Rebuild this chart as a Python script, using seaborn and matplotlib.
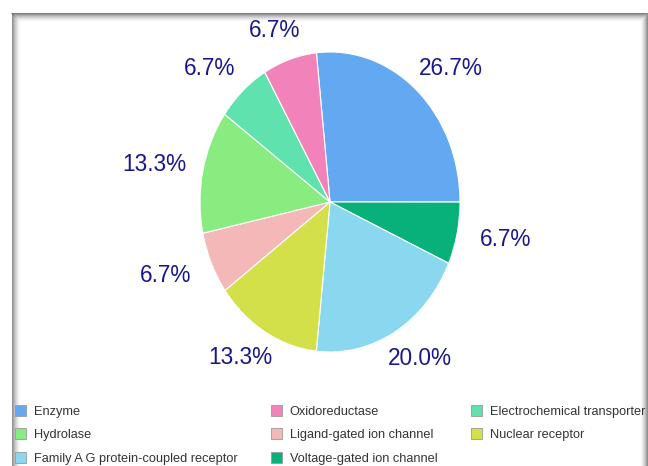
import matplotlib
matplotlib.use("Agg")
import matplotlib.pyplot as plt
from matplotlib.patches import Patch
import seaborn as sns

# ---- data ----
categories = ["Enzyme", "Voltage-gated ion channel",
              "Family A G protein-coupled receptor", "Nuclear receptor",
              "Ligand-gated ion channel", "Hydrolase",
              "Electrochemical transporter", "Oxidoreductase"]
percentages = [26.7, 6.7, 20.0, 13.3, 6.7, 13.3, 6.7, 6.7]
colors = ["#62A9F2", "#08B07A", "#8AD8F0", "#D3E04A",
          "#F5B8B8", "#88EC80", "#60E2AE", "#F282BA"]
legend_order = ["Enzyme", "Hydrolase", "Family A G protein-coupled receptor",
                "Oxidoreductase", "Ligand-gated ion channel",
                "Voltage-gated ion channel", "Electrochemical transporter",
                "Nuclear receptor"]

sns.set_theme(style="white")
plt.rcParams['font.family'] = ['Liberation Sans', 'DejaVu Sans']

W, H = 648, 466
fig = plt.figure(figsize=(W / 100, H / 100), dpi=100)
fig.patch.set_facecolor("white")

# background frame with soft shadow
bg = fig.add_axes([0, 0, 1, 1], zorder=0)
bg.set_xlim(0, W)
bg.set_ylim(H, 0)
bg.axis("off")
x0, y0 = 11, 12
for i in range(9):
    a = 0.5 * (1 - i / 9) ** 1.8
    bg.plot([x0 + i, W - i], [y0 + 0.5 + i] * 2, color="black", alpha=a, lw=0.72,
            solid_capstyle="butt")
    bg.plot([x0 + 0.5 + i] * 2, [y0 + i + 1, H], color="black", alpha=a * 0.85,
            lw=0.72, solid_capstyle="butt")
    bg.plot([W - 0.5 - i] * 2, [y0 + i + 1, H], color="black", alpha=a * 1.1,
            lw=0.72, solid_capstyle="butt")

# pie
ax = fig.add_axes([0, 0, 1, 1], zorder=1)
ax.patch.set_alpha(0)
wedges, texts, autotexts = ax.pie(
    percentages, colors=sns.color_palette(colors), startangle=96,
    counterclock=False, autopct="%.1f%%", pctdistance=1.0,
    wedgeprops=dict(edgecolor="white", linewidth=0.8),
    textprops=dict(color="#18188C", fontsize=16.3))
ax.set_aspect("auto")
cx, cy, rx, ry = 330, 202, 130, 150
ax.set_xlim(-cx / rx, (W - cx) / rx)
ax.set_ylim(-(H - cy) / ry, cy / ry)
ax.axis("off")
# push percentage labels out onto a near-circular ring around the oval pie
for t in autotexts:
    x, y = t.get_position()
    t.set_position((x * 180 / rx, y * 180 / ry))

# legend
color_of = dict(zip(categories, colors))
handles = [Patch(facecolor=color_of[c], edgecolor="#9a9a9a", linewidth=0.6)
           for c in legend_order]
fig.legend(handles, legend_order, ncol=3, loc="upper left",
           bbox_to_anchor=(15 / W, 1 - 405 / H), frameon=False,
           fontsize=9.2, handlelength=0.85, handleheight=0.95,
           handletextpad=0.6, columnspacing=2.65, labelspacing=0.82,
           borderpad=0, borderaxespad=0, labelcolor="#333333")

fig.savefig("out.png", dpi=100)
